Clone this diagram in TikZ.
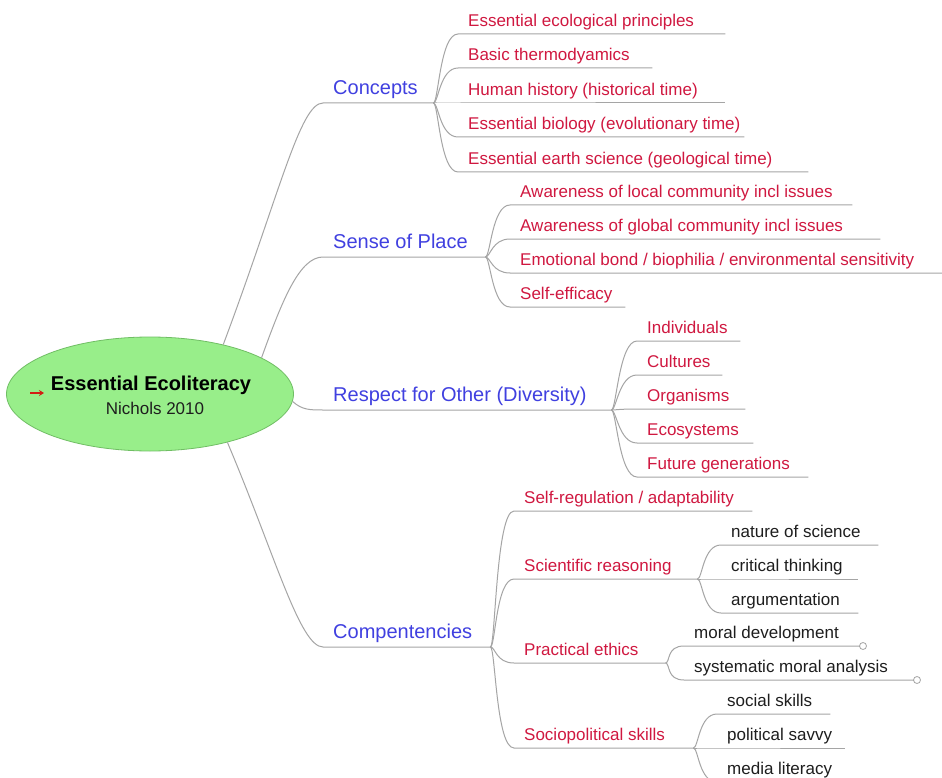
\documentclass[tikz,border=0pt]{standalone}
\usepackage{fontspec}
\setmainfont{Liberation Sans}
\usetikzlibrary{shapes.geometric,arrows.meta}

\definecolor{mainblue}{RGB}{64,64,224}
\definecolor{subred}{RGB}{208,24,64}
\definecolor{leafblack}{RGB}{30,30,30}
\definecolor{wirecol}{RGB}{165,165,165}
\definecolor{rootfill}{RGB}{152,238,138}
\definecolor{rootedge}{RGB}{112,190,100}
\definecolor{arrowred}{RGB}{210,30,20}

\tikzset{
  % a topic is its text sitting on an underline of length #1
  topic/.style={anchor=south west, inner xsep=10pt, inner ysep=7pt, text depth=0pt,
    font=\fontsize{17}{20}\selectfont,
    execute at begin node={\hbox to \dimexpr #1pt-20pt\relax\bgroup\hbox\bgroup},
    execute at end node={\egroup\hss\egroup}},
  main/.style={topic=#1, inner ysep=8pt, text=mainblue, font=\fontsize{20}{24}\selectfont},
  sub/.style={topic=#1, text=subred},
  leaf/.style={topic=#1, text=leafblack},
  wire/.style={draw=wirecol, line width=1pt},
  knob/.style={circle, draw=wirecol, fill=white, line width=0.8pt, inner sep=0pt, minimum size=7pt},
}
% curved branch from the end of a parent's underline to a child's underline
\newcommand\branchto[2]{\draw[wire] (#1.south east) .. controls +(5,0) and +(-18,0) .. (#2.south west) -- (#2.south east);}

\begin{document}
\begin{tikzpicture}[x=1pt,y=-1pt]
\clip (0,0) rectangle (942,778);
\fill[white] (0,0) rectangle (942,778);

% central topic
\node[ellipse, draw=rootedge, fill=rootfill, line width=0.8pt, minimum width=287pt, minimum height=114pt, inner sep=0pt] (root) at (150,394) {};
\node[font=\bfseries\fontsize{20}{24}\selectfont, text=black, anchor=base] (title) at (151,390) {Essential Ecoliteracy};
\node[font=\fontsize{17}{20}\selectfont, text=leafblack, anchor=base] (year) at (155,414) {Nichols 2010};
\draw[arrowred, line width=1.5pt, -{Stealth[length=5pt,width=6pt]}] (30,393) -- (44,393);

% main topics
\node[main=110] (concepts) at (323,103) {Concepts};
\node[main=162] (place) at (323,257) {Sense of Place};
\node[main=288] (respect) at (323,410) {Respect for Other (Diversity)};
\node[main=167] (comp) at (323,647) {Compentencies};

\draw[wire] (root.34) .. controls (280,193) and (300,103) .. (concepts.south west) -- (concepts.south east);
\draw[wire] (root.18) .. controls (283,298) and (300,257) .. (place.south west) -- (place.south east);
\draw[wire] (root.-3) .. controls (302,410) and (310,410) .. (respect.south west) -- (respect.south east);
\draw[wire] (root.-32) .. controls (275,555) and (300,647) .. (comp.south west) -- (comp.south east);

% Concepts
\node[sub=267] (c1) at (458,34)  {Essential ecological principles};
\node[sub=194] (c2) at (458,68)  {Basic thermodyamics};
\node[sub=267] (c3) at (458,103) {Human history (historical time)};
\node[sub=286] (c4) at (458,137) {Essential biology (evolutionary time)};
\node[sub=350] (c5) at (458,172) {Essential earth science (geological time)};
\foreach \n in {c1,c2,c3,c4,c5} {\branchto{concepts}{\n}}

% Sense of Place
\node[sub=342] (p1) at (510,205) {Awareness of local community incl issues};
\node[sub=370] (p2) at (510,239) {Awareness of global community incl issues};
\node[sub=440] (p3) at (510,273) {Emotional bond / biophilia / environmental sensitivity};
\node[sub=115] (p4) at (510,307) {Self-efficacy};
\foreach \n in {p1,p2,p3,p4} {\branchto{place}{\n}}

% Respect for Other
\node[sub=103] (r1) at (637,341) {Individuals};
\node[sub=85]  (r2) at (637,375) {Cultures};
\node[sub=108] (r3) at (637,409) {Organisms};
\node[sub=116] (r4) at (637,443) {Ecosystems};
\node[sub=171] (r5) at (637,477) {Future generations};
\foreach \n in {r1,r2,r3,r4,r5} {\branchto{respect}{\n}}

% Competencies
\node[sub=238] (k1) at (514,511) {Self-regulation / adaptability};
\node[sub=183] (k2) at (514,579) {Scientific reasoning};
\node[sub=151] (k3) at (514,663) {Practical ethics};
\node[sub=179] (k4) at (514,748) {Sociopolitical skills};
\foreach \n in {k1,k2,k3,k4} {\branchto{comp}{\n}}

% Scientific reasoning
\node[leaf=157] (s1) at (721,545) {nature of science};
\node[leaf=137] (s2) at (721,579) {critical thinking};
\node[leaf=137] (s3) at (721,613) {argumentation};
\foreach \n in {s1,s2,s3} {\branchto{k2}{\n}}

% Practical ethics
\node[leaf=175] (e1) at (684,646) {moral development};
\node[leaf=229] (e2) at (684,680) {systematic moral analysis};
\foreach \n in {e1,e2} {\branchto{k3}{\n}}
\node[knob] (e1k) at (863,646) {};
\node[knob] (e2k) at (917,680) {};
\draw[wire] (e1.south east) -- (e1k.west);
\draw[wire] (e2.south east) -- (e2k.west);

% Sociopolitical skills
\node[leaf=113] (o1) at (717,714) {social skills};
\node[leaf=128] (o2) at (717,748) {political savvy};
\node[leaf=113] (o3) at (717,782) {media literacy};
\foreach \n in {o1,o2,o3} {\branchto{k4}{\n}}
\end{tikzpicture}
\end{document}
